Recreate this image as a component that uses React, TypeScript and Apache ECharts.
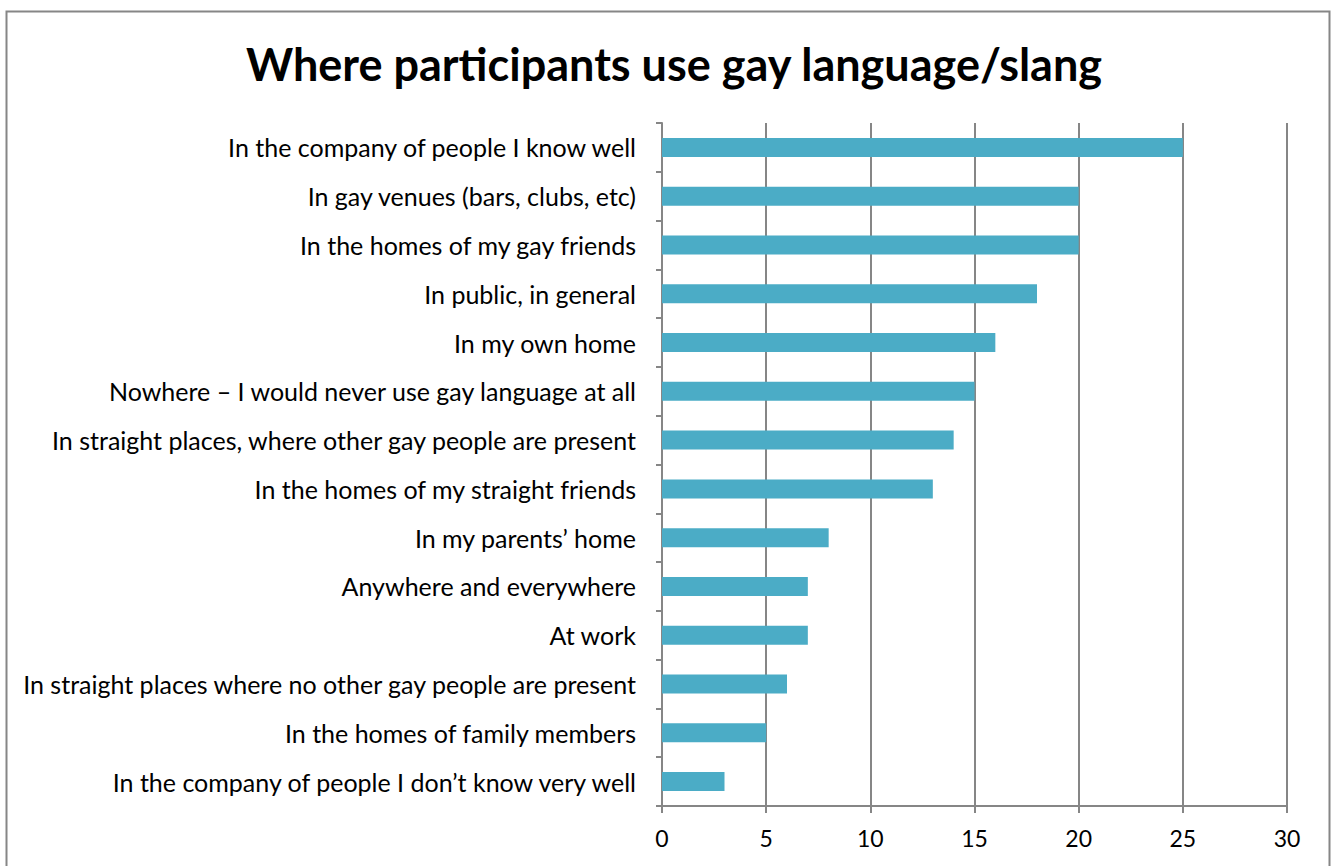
import React, { useEffect, useRef } from "react";
import * as echarts from "echarts";

const categories = [
  "In the company of people I know well",
  "In gay venues (bars, clubs, etc)",
  "In the homes of my gay friends",
  "In public, in general",
  "In my own home",
  "Nowhere – I would never use gay language at all",
  "In straight places, where other gay people are present",
  "In the homes of my straight friends",
  "In my parents’ home",
  "Anywhere and everywhere",
  "At work",
  "In straight places where no other gay people are present",
  "In the homes of family members",
  "In the company of people I don’t know very well",
];
const values = [25, 20, 20, 18, 16, 15, 14, 13, 8, 7, 7, 6, 5, 3];
const xTicks = { min: 0, max: 30, interval: 5 };
const title = "Where participants use gay language/slang";

export default function App() {
  const ref = useRef<HTMLDivElement>(null);
  useEffect(() => {
    const chart = echarts.init(ref.current!, null, { renderer: "svg" });
    const font = "Lato, 'Open Sans', sans-serif";
    chart.setOption({
      animation: false,
      backgroundColor: "#ffffff",
      title: {
        text: title,
        left: 669,
        textAlign: "center",
        top: 36,
        textStyle: { fontFamily: font, fontWeight: "bold", fontSize: 45, color: "#000" },
      },
      graphic: [
        {
          type: "rect",
          shape: { x: 6.5, y: 11.5, width: 1323, height: 900 },
          style: { fill: "none", stroke: "#868686", lineWidth: 2 },
          silent: true,
        },
      ],
      grid: { left: 662, right: 44, top: 123, bottom: 60, containLabel: false },
      xAxis: {
        type: "value",
        min: xTicks.min,
        max: xTicks.max,
        interval: xTicks.interval,
        axisLine: { show: true, lineStyle: { color: "#868686", width: 2 } },
        axisTick: { show: true, length: 7, lineStyle: { color: "#868686", width: 2 } },
        splitLine: { show: true, lineStyle: { color: "#868686", width: 2 } },
        axisLabel: { color: "#000", fontFamily: font, fontSize: 23, margin: 20 },
      },
      yAxis: {
        type: "category",
        data: categories,
        inverse: true,
        axisLine: { show: true, lineStyle: { color: "#868686", width: 2 } },
        axisTick: { show: true, length: 6, lineStyle: { color: "#868686", width: 2 } },
        axisLabel: { color: "#000", fontFamily: font, fontSize: 25, margin: 26 },
        splitLine: { show: false },
      },
      series: [
        {
          type: "bar",
          data: values,
          barWidth: 19,
          itemStyle: { color: "#4BACC6" },
        },
      ],
    });
    return () => chart.dispose();
  }, []);
  return (
    <div
      ref={ref}
      style={{ position: "absolute", left: 0, top: 0, width: 1331, height: 866 }}
    />
  );
}
